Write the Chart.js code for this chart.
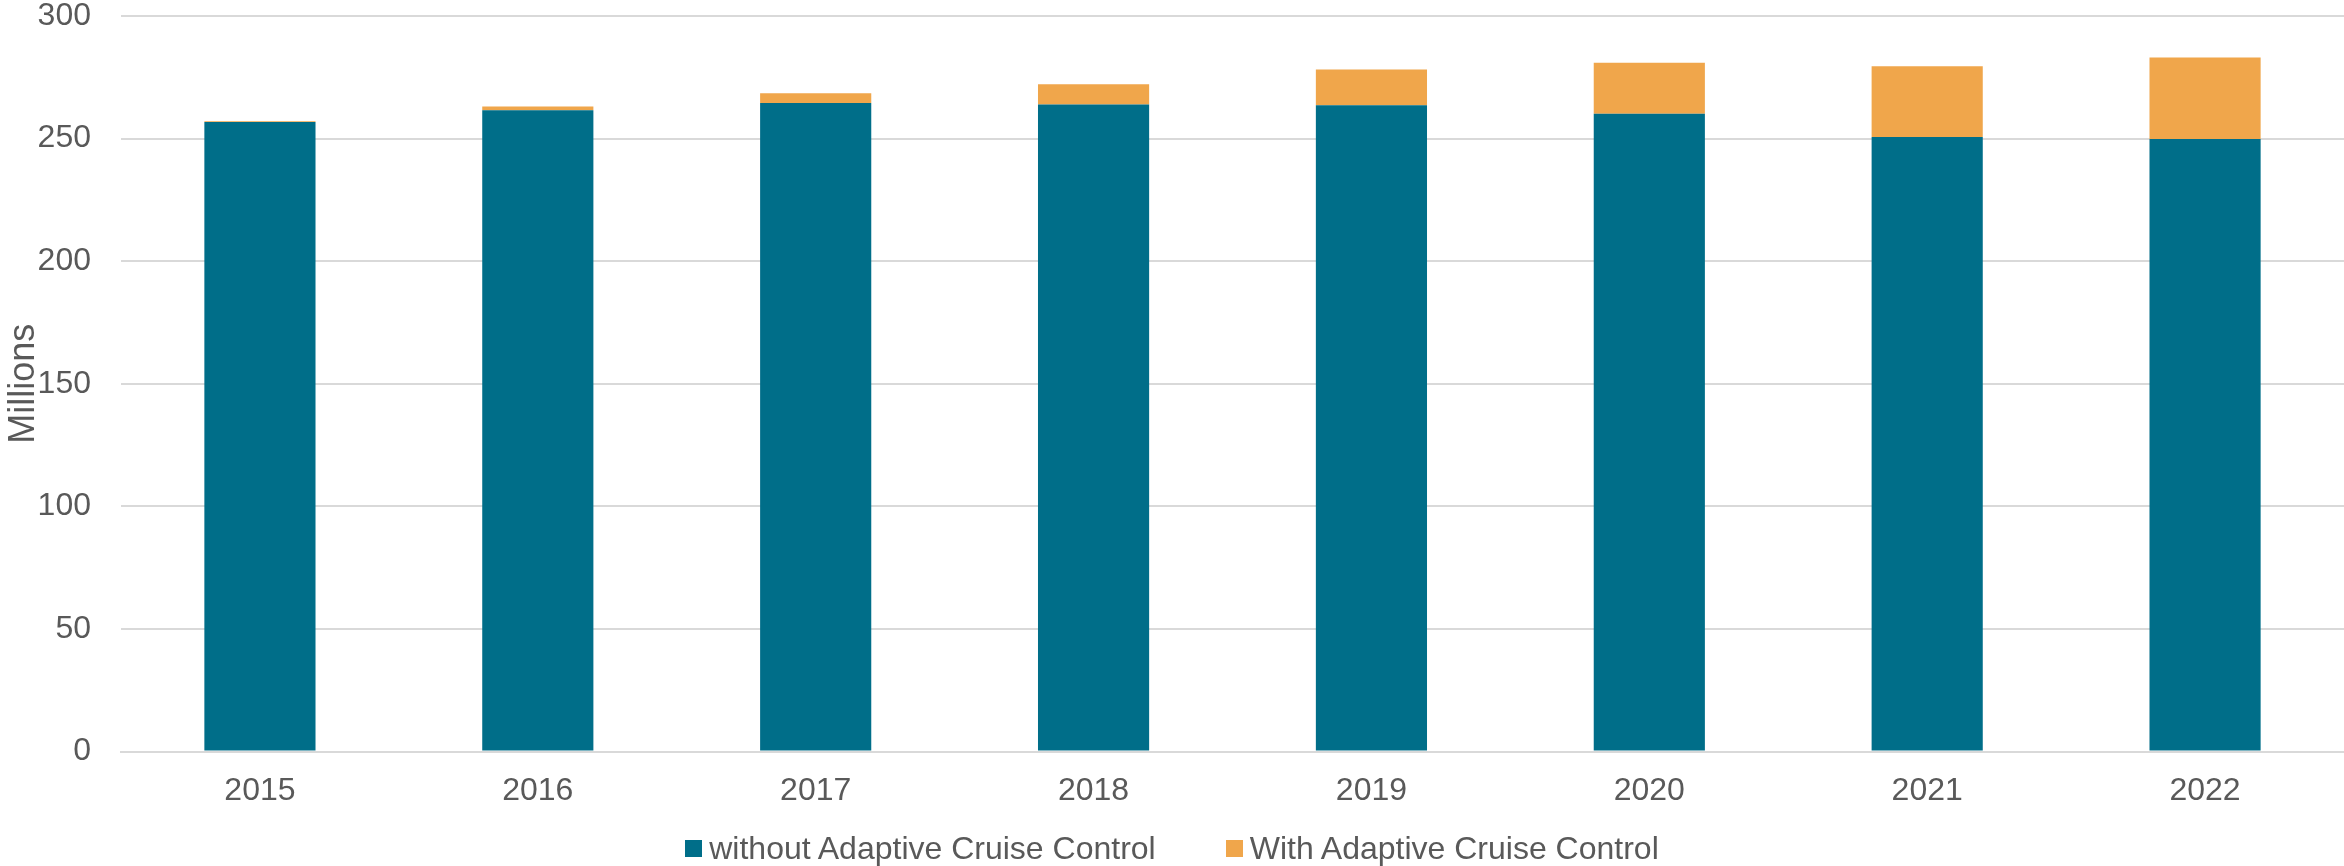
<!DOCTYPE html>
<html>
<head>
<meta charset="utf-8">
<script src="https://cdn.jsdelivr.net/npm/chart.js@4/dist/chart.umd.min.js"></script>
<style>
  html, body { margin: 0; padding: 0; background: #fff; }
  .wadah { position: relative; width: 2344px; height: 866px; }
  canvas { display: block; }
  #legenda {
    position: absolute; left: 0; right: 0; top: 828px;
    display: flex; justify-content: center; gap: 70px;
    font-family: "Liberation Sans", Arial, sans-serif; font-size: 32px;
    color: #595959; line-height: 40px;
  }
  #legenda span { display: flex; align-items: center; gap: 7px; }
  #legenda i { display: inline-block; width: 17px; height: 17px; }
</style>
</head>
<body>
<div class="wadah">
  <canvas id="accChart" width="2344" height="866"></canvas>
  <div id="legenda"></div>
</div>
<script>
// Tahun dan jumlah kendaraan (juta)
const years = ['2015', '2016', '2017', '2018', '2019', '2020', '2021', '2022'];
const withoutAcc = [256.8, 261.6, 264.5, 263.9, 263.6, 260.1, 250.7, 249.8];
const withAcc = [0.3, 1.5, 4.0, 8.3, 14.6, 20.8, 28.8, 33.3];
const yTicks = [0, 50, 100, 150, 200, 250, 300];

const teks = '#595959';
const garis = '#D9D9D9';
const huruf = '"Liberation Sans", Arial, sans-serif';

const ctx = document.getElementById('accChart').getContext('2d');

const accChart = new Chart(ctx, {
    type: 'bar',
    data: {
        labels: years,
        datasets: [
            {
                label: 'without Adaptive Cruise Control',
                data: withoutAcc,
                backgroundColor: '#006E89',
                borderWidth: 0
            },
            {
                label: 'With Adaptive Cruise Control',
                data: withAcc,
                backgroundColor: '#F0A64B',
                borderWidth: 0
            }
        ]
    },
    options: {
        responsive: false,
        animation: false,
        layout: {
            // ruang bawah untuk legenda HTML
            padding: { top: 16, right: 0, bottom: 36, left: 0 }
        },
        datasets: {
            bar: {
                categoryPercentage: 1,
                barPercentage: 0.4
            }
        },
        scales: {
            x: {
                stacked: true,
                grid: { display: false, drawTicks: false },
                border: { color: garis, width: 2 },
                ticks: {
                    color: teks,
                    padding: 20,
                    font: { family: huruf, size: 32 }
                }
            },
            y: {
                stacked: true,
                min: 0,
                max: 300,
                afterBuildTicks: s => { s.ticks = yTicks.map(v => ({ value: v })); },
                afterFit: s => {
                    s.width = 121;
                    s.paddingTop = 0;
                    s.paddingBottom = 0;
                },
                grid: { color: garis, lineWidth: 2, drawTicks: false },
                border: { display: false },
                ticks: {
                    color: teks,
                    padding: 30,
                    font: { family: huruf, size: 32 }
                },
                title: {
                    display: true,
                    text: 'Millions',
                    color: teks,
                    padding: { top: 2, bottom: 0 },
                    font: { family: huruf, size: 36 }
                }
            }
        },
        plugins: {
            legend: { display: false },
            tooltip: { enabled: false }
        }
    }
});

// Legenda dibuat dari dataset grafik
document.getElementById('legenda').innerHTML = accChart.data.datasets
    .map(ds => `<span><i style="background:${ds.backgroundColor}"></i>${ds.label}</span>`)
    .join('');
</script>
</body>
</html>
